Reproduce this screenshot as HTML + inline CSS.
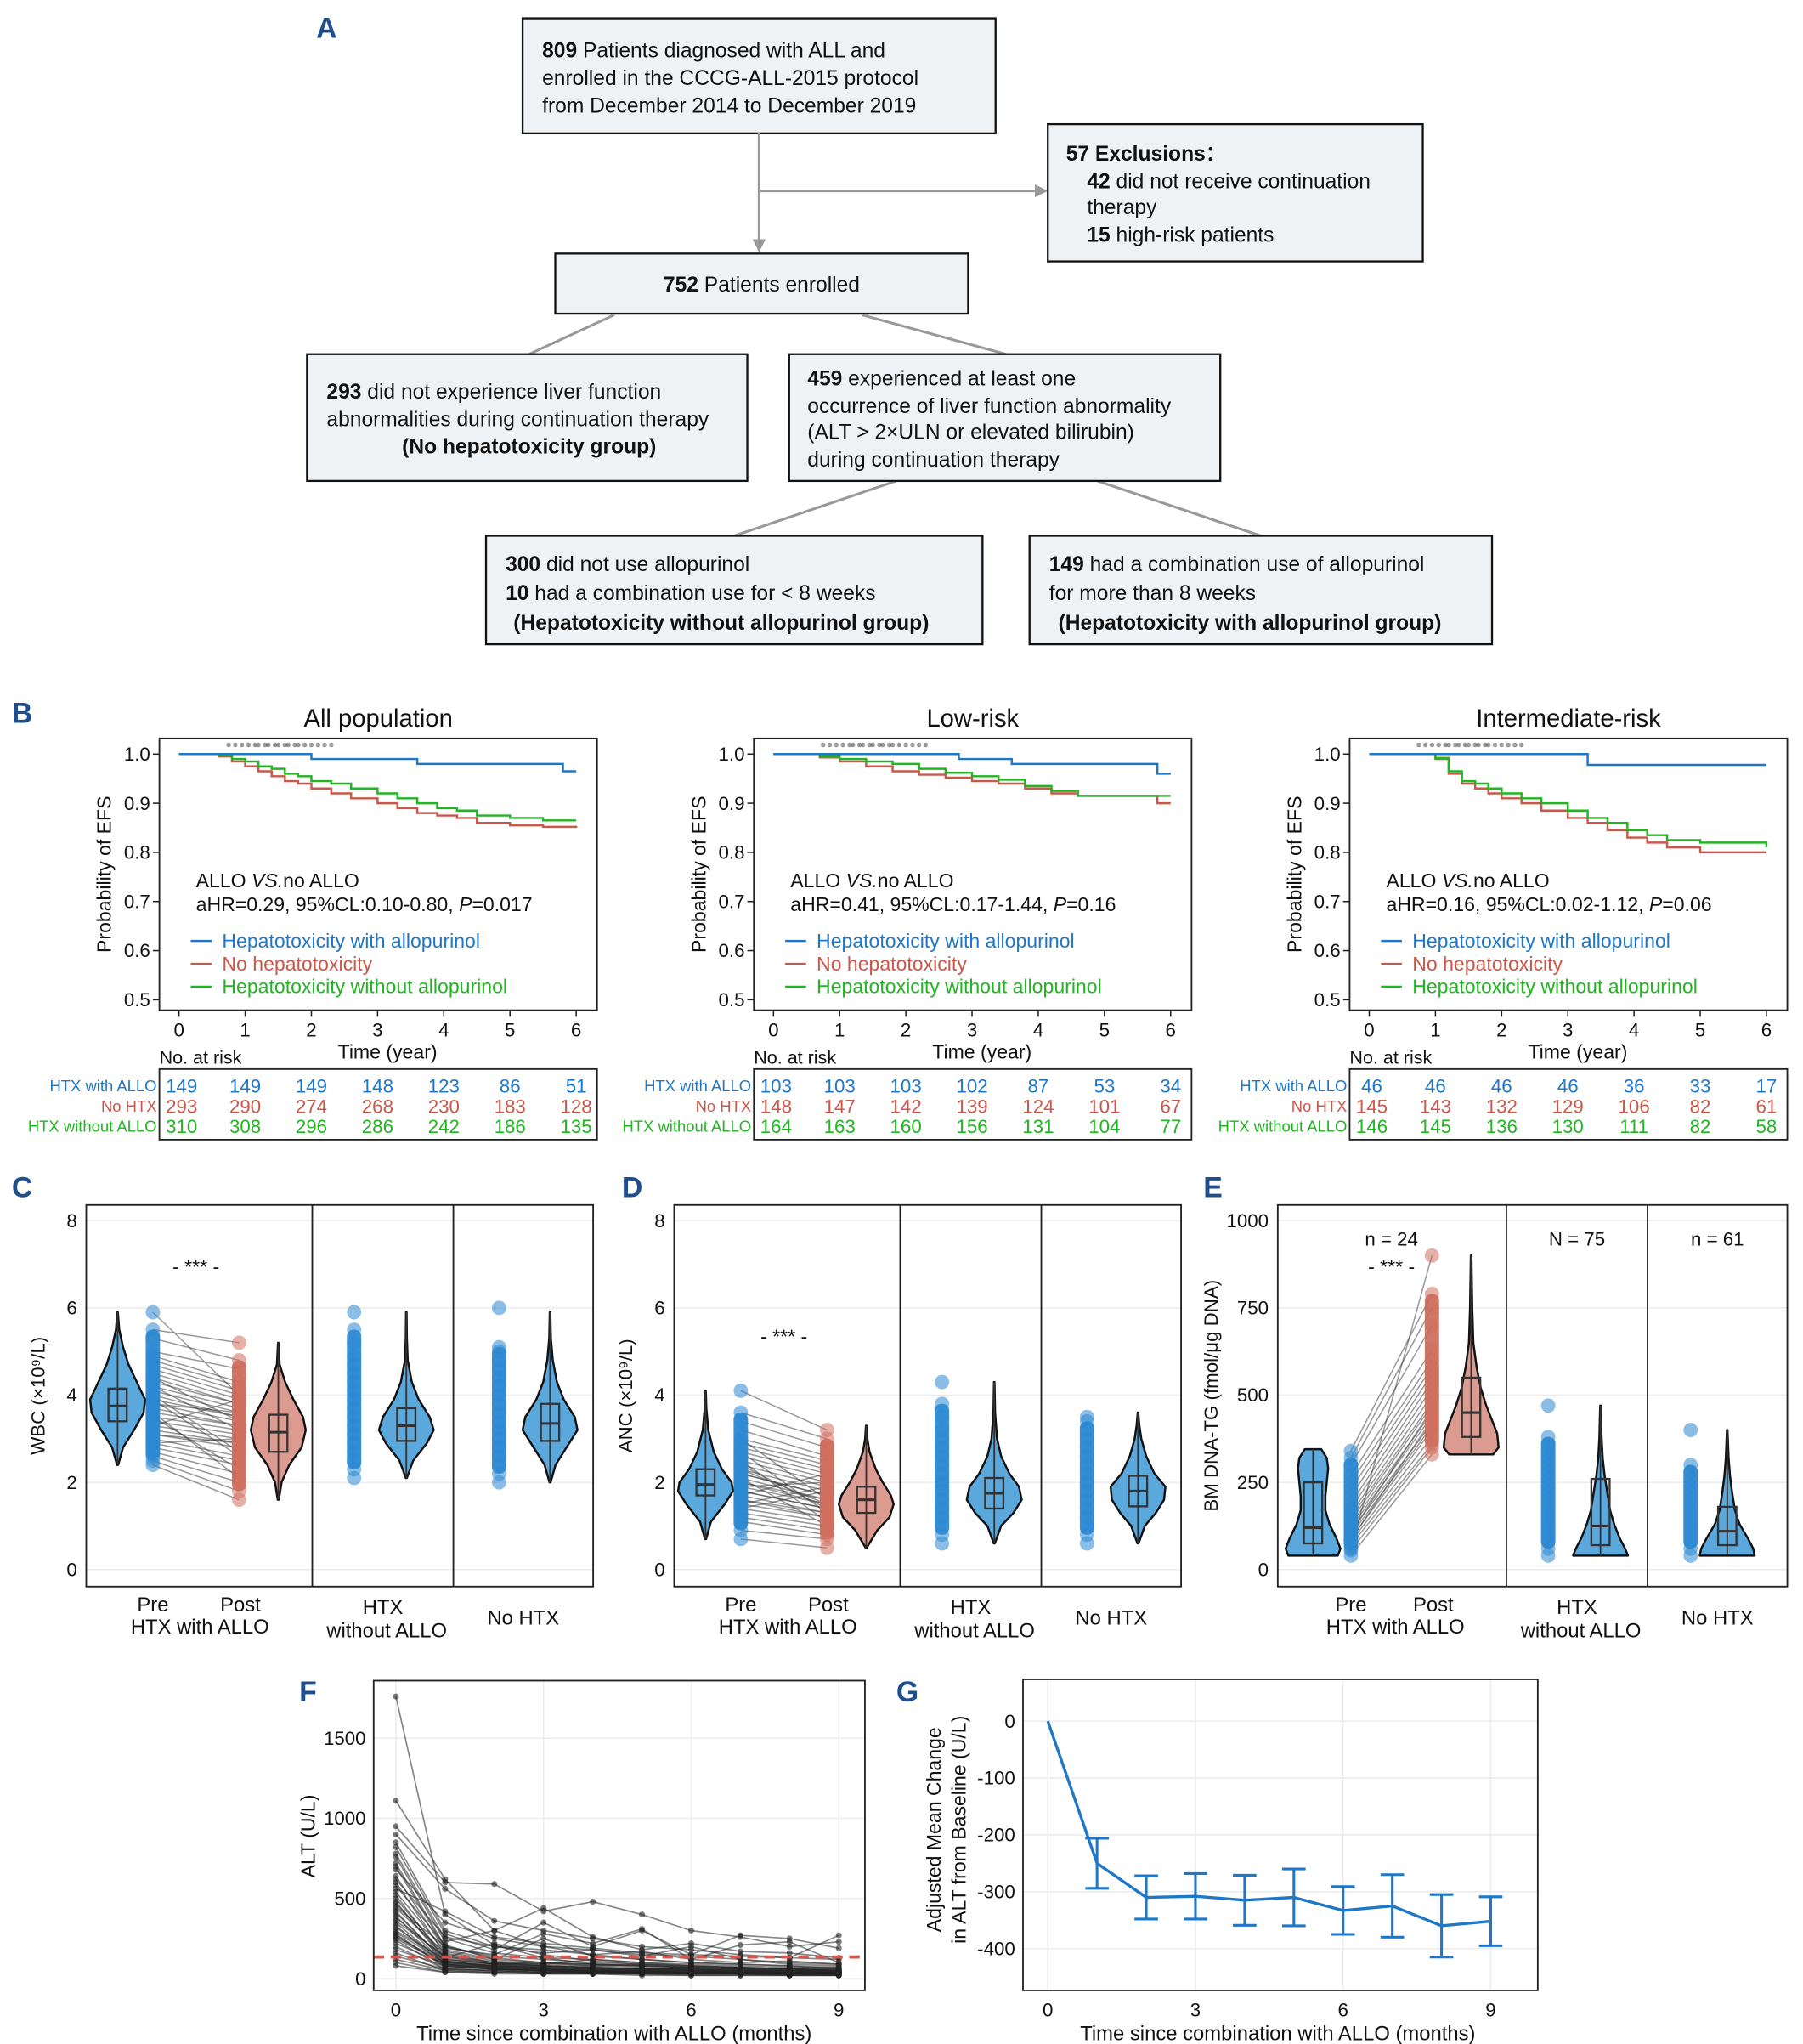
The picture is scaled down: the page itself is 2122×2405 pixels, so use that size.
<!DOCTYPE html>
<html><head><meta charset="utf-8"><style>
html,body{margin:0;padding:0;background:#fff}
svg{display:block}
text{font-family:"Liberation Sans",Arial,sans-serif;fill:#111}
.lab{font-weight:bold;fill:#1f4e8c;font-size:22px}
.box{fill:#eef2f5;stroke:#111;stroke-width:1.5}
.fl{stroke:#999;stroke-width:2;fill:none}
.ft{font-size:16px}
.tk{font-size:14.5px}
.ax{fill:none;stroke:#222;stroke-width:1.2}
.grid{stroke:#ececec;stroke-width:1}
</style></head><body>
<svg id="fig" xmlns="http://www.w3.org/2000/svg" width="2122" height="2405" viewBox="0 0 1380 1564">
<defs><marker id="arr" viewBox="0 0 10 10" refX="9" refY="5" markerWidth="5" markerHeight="5" orient="auto"><path d="M0,0L10,5L0,10z" fill="#999"/></marker></defs>
<g>
<text class="lab" x="242" y="29">A</text>
<rect class="box" x="400" y="14" width="362" height="88"/>
<text class="ft" x="415" y="44"><tspan font-weight="bold">809</tspan> Patients diagnosed with ALL and</text>
<text class="ft" x="415" y="65">enrolled in the CCCG-ALL-2015 protocol</text>
<text class="ft" x="415" y="86">from December 2014 to December 2019</text>
<path class="fl" d="M581,102V192" marker-end="url(#arr)"/>
<path class="fl" d="M581,146H801" marker-end="url(#arr)"/>
<rect class="box" x="802" y="95" width="287" height="105"/>
<text class="ft" x="816" y="123" font-weight="bold">57 Exclusions：</text>
<text class="ft" x="832" y="144"><tspan font-weight="bold">42</tspan> did not receive continuation</text>
<text class="ft" x="832" y="164">therapy</text>
<text class="ft" x="832" y="185"><tspan font-weight="bold">15</tspan> high-risk patients</text>
<rect class="box" x="425" y="194" width="316" height="46"/>
<text class="ft" x="583" y="223" text-anchor="middle"><tspan font-weight="bold">752</tspan> Patients enrolled</text>
<path class="fl" d="M470,241L405,271M660,241L770,271M686,368L562,410M840,368L965,410"/>
<rect class="box" x="235" y="271" width="337" height="97"/>
<text class="ft" x="250" y="305"><tspan font-weight="bold">293</tspan> did not experience liver function</text>
<text class="ft" x="250" y="326">abnormalities during continuation therapy</text>
<text class="ft" x="405" y="347" text-anchor="middle" font-weight="bold">(No hepatotoxicity group)</text>
<rect class="box" x="604" y="271" width="330" height="97"/>
<text class="ft" x="618" y="295"><tspan font-weight="bold">459</tspan> experienced at least one</text>
<text class="ft" x="618" y="316">occurrence of liver function abnormality</text>
<text class="ft" x="618" y="336">(ALT &gt; 2×ULN or elevated bilirubin)</text>
<text class="ft" x="618" y="357">during continuation therapy</text>
<rect class="box" x="372" y="410" width="380" height="83"/>
<text class="ft" x="387" y="437"><tspan font-weight="bold">300</tspan>  did not use allopurinol</text>
<text class="ft" x="387" y="459"><tspan font-weight="bold">10</tspan> had a combination use for &lt; 8 weeks</text>
<text class="ft" x="393" y="482" font-weight="bold">(Hepatotoxicity without allopurinol group)</text>
<rect class="box" x="788" y="410" width="354" height="83"/>
<text class="ft" x="803" y="437"><tspan font-weight="bold">149</tspan>  had a combination use of allopurinol</text>
<text class="ft" x="803" y="459">for more than 8 weeks</text>
<text class="ft" x="810" y="482" font-weight="bold">(Hepatotoxicity with allopurinol group)</text>
</g>
<text class="lab" x="9" y="553">B</text>
<text class="lab" x="9" y="916">C</text>
<text class="lab" x="476" y="916">D</text>
<text class="lab" x="921" y="916">E</text>
<text class="lab" x="229" y="1302">F</text>
<text class="lab" x="686" y="1302">G</text>
<g id="gB"></g><g id="gCDE"></g><g id="gF"></g><g id="gG"></g>
</svg>
<script>
// ---------- Panel B data ----------
const kmTitles = ["All population","Low-risk","Intermediate-risk"];
const kmHR = ["aHR=0.29, 95%CL:0.10-0.80, ","aHR=0.41, 95%CL:0.17-1.44, ","aHR=0.16, 95%CL:0.02-1.12, "];
const kmP = ["=0.017","=0.16","=0.06"];
const kmTimeTicks = [0,1,2,3,4,5,6];
const kmYTicks = [0.5,0.6,0.7,0.8,0.9,1.0];
const blueT = [[0,2.0,3.6,5.8,6],[0,2.8,3.6,5.8,6],[0,3.3,6]];
const blueS = [[1,0.99,0.98,0.965,0.965],[1,0.99,0.98,0.96,0.96],[1,0.978,0.978]];
const redT = [[0,0.6,0.8,1.0,1.2,1.4,1.6,1.8,2.0,2.3,2.6,3.0,3.3,3.6,3.9,4.2,4.5,5.0,5.5,6],
              [0,0.7,1.0,1.4,1.8,2.2,2.6,3.0,3.4,3.8,4.2,4.6,5.0,5.5,5.8,6],
              [0,1.0,1.2,1.4,1.6,1.8,2.0,2.3,2.6,3.0,3.3,3.6,3.9,4.2,4.5,5.0,6]];
const redS = [[1,0.995,0.985,0.975,0.965,0.955,0.945,0.94,0.93,0.92,0.91,0.9,0.89,0.88,0.875,0.87,0.86,0.855,0.852,0.85],
              [1,0.993,0.985,0.975,0.965,0.958,0.952,0.945,0.94,0.93,0.92,0.915,0.915,0.915,0.9,0.9],
              [1,0.99,0.96,0.94,0.93,0.92,0.91,0.9,0.885,0.87,0.86,0.845,0.83,0.82,0.81,0.8,0.8]];
const greenT = [[0,0.6,0.8,1.0,1.2,1.4,1.6,1.8,2.0,2.3,2.6,3.0,3.3,3.6,3.9,4.2,4.5,5.0,5.5,6],
                [0,0.7,1.0,1.4,1.8,2.2,2.6,3.0,3.4,3.8,4.2,4.6,5.0,5.5,5.8,6],
                [0,1.0,1.2,1.4,1.6,1.8,2.0,2.3,2.6,3.0,3.3,3.6,3.9,4.2,4.5,5.0,6]];
const greenS = [[1,0.997,0.99,0.985,0.975,0.97,0.96,0.955,0.945,0.94,0.93,0.92,0.91,0.9,0.89,0.885,0.875,0.87,0.865,0.865],
                [1,0.996,0.99,0.985,0.98,0.97,0.962,0.955,0.948,0.935,0.925,0.915,0.915,0.915,0.915,0.915],
                [1,0.992,0.965,0.945,0.94,0.93,0.92,0.91,0.9,0.885,0.87,0.86,0.845,0.835,0.825,0.82,0.81]];
const riskBlue = [[149,149,149,148,123,86,51],[103,103,103,102,87,53,34],[46,46,46,46,36,33,17]];
const riskRed = [[293,290,274,268,230,183,128],[148,147,142,139,124,101,67],[145,143,132,129,106,82,61]];
const riskGreen = [[310,308,296,286,242,186,135],[164,163,160,156,131,104,77],[146,145,136,130,111,82,58]];
const censorT = [0.75,0.85,0.95,1.05,1.15,1.2,1.3,1.35,1.45,1.5,1.6,1.65,1.75,1.8,1.9,2.0,2.1,2.2,2.3];

const NS="http://www.w3.org/2000/svg";
function mk(tag, attrs, parent, txt){const e=document.createElementNS(NS,tag);for(const k in attrs)e.setAttribute(k,attrs[k]);if(txt!==undefined)e.textContent=txt;parent.appendChild(e);return e;}
const C_BLUE="#1f77c8", C_RED="#c9584a", C_GREEN="#22b422";

const gB=document.getElementById('gB');
for(let p=0;p<3;p++){
  const off=[0,455,911][p];
  const X0=122+off, X1=457+off, Y0=565, Y1=773;
  const sx=t=>137+off+t*(304/6), sy=s=>577+(1-s)*376;
  const g=mk('g',{},gB);
  
  
  const tt=mk('text',{x:(X0+X1)/2,y:556,'text-anchor':'middle','font-size':19},g,kmTitles[p]);
  
  
  const fr=mk('rect',{x:X0,y:Y0,width:X1-X0,height:Y1-Y0,class:'ax'},g);
  
  
  kmYTicks.forEach(v=>{mk('line',{x1:X0-5,x2:X0,y1:sy(v),y2:sy(v),stroke:'#222'},g);
    const t=mk('text',{x:X0-7,y:sy(v)+5,'text-anchor':'end',class:'tk'},g,v.toFixed(1));
    
    });
  kmTimeTicks.forEach(v=>{mk('line',{x1:sx(v),x2:sx(v),y1:Y1,y2:Y1+5,stroke:'#222'},g);
    const t=mk('text',{x:sx(v),y:793,'text-anchor':'middle',class:'tk'},g,v);
    
    });
  const yl=mk('text',{transform:`translate(${X0-37},669) rotate(-90)`,'text-anchor':'middle','font-size':15},g,'Probability of EFS');
  
  
  const xl=mk('text',{x:sx(3.15),y:810,'text-anchor':'middle','font-size':15},g,'Time (year)');
  
  
  const nr=mk('text',{x:X0,y:814,'font-size':14},g,'No. at risk');
  
  
  censorT.forEach(t=>{const c=mk('circle',{cx:sx(t),cy:570,r:1.8,fill:'#555','fill-opacity':0.6},g);
    
    });
  [[redT[p],redS[p],C_RED,'no-htx'],[greenT[p],greenS[p],C_GREEN,'htx-without-allo'],[blueT[p],blueS[p],C_BLUE,'htx-with-allo']].forEach(([T,S,col,nm])=>{
    let d=`M${sx(T[0])},${sy(S[0])}`;
    for(let i=1;i<T.length;i++){d+=`H${sx(T[i])}V${sy(S[i])}`;}
    const pth=mk('path',{d,fill:'none',stroke:col,'stroke-width':1.6},g);
    
    
  });
  const ax=X0+28;
  mk('text',{x:ax,y:679,'font-size':15},g).innerHTML='ALLO <tspan font-style="italic">VS.</tspan>no ALLO';
  mk('text',{x:ax,y:697,'font-size':15},g).innerHTML=kmHR[p]+'<tspan font-style="italic">P</tspan>'+kmP[p];
  const leg=[['Hepatotoxicity with allopurinol',C_BLUE],['No hepatotoxicity',C_RED],['Hepatotoxicity without allopurinol',C_GREEN]];
  leg.forEach(([txt,col],i)=>{const y=720+i*17.5;
    mk('line',{x1:X0+24,x2:X0+40,y1:y,y2:y,stroke:col,'stroke-width':1.6},g);
    const t=mk('text',{x:X0+48,y:y+5,'font-size':15,style:'fill:'+col},g,txt);
    
    });
  const rb=mk('rect',{x:X0,y:818,width:X1-X0,height:54,class:'ax'},g);
  
  
  [['HTX with ALLO',riskBlue[p],C_BLUE],['No HTX',riskRed[p],C_RED],['HTX without ALLO',riskGreen[p],C_GREEN]].forEach(([lab,arr,col],r)=>{
    const y=834+r*15.5;
    const t=mk('text',{x:X0-2,y:y+1,'text-anchor':'end','font-size':12,style:'fill:'+col},g,lab);
    
    
    arr.forEach((v,i)=>{const n=mk('text',{x:sx(kmTimeTicks[i])+(i===0?2:0),y:y+2,'text-anchor':'middle','font-size':14.5,style:'fill:'+col},g,v);
      
      });
  });
}

// ---------- Panels C/D/E data ----------
const wbcPre  = [2.4,2.5,2.6,2.7,2.8,2.9,3.0,3.1,3.2,3.3,3.4,3.5,3.6,3.7,3.8,3.9,4.0,4.1,4.2,4.3,4.4,4.5,4.6,4.7,4.8,4.9,5.0,5.3,5.5,5.9,3.5,3.8,4.0,4.2,3.6,3.3,3.9,4.4,3.1,2.9];
const wbcPost = [1.6,1.8,2.0,2.2,2.4,2.5,2.6,2.8,2.9,3.0,3.1,3.2,3.3,3.3,3.4,3.5,3.5,3.6,3.7,3.8,3.8,3.9,4.0,4.1,4.2,4.3,4.6,4.8,5.2,4.0,2.3,3.6,2.7,3.2,2.1,3.9,2.6,3.4,2.9,3.0];
const wbcNoAllo = [2.1,2.3,2.5,2.7,2.9,3.1,3.3,3.5,3.7,3.9,4.1,4.3,4.5,4.7,4.9,5.2,5.5,5.9];
const wbcNoHtx = [2.0,2.2,2.4,2.6,2.8,3.0,3.2,3.4,3.6,3.8,4.0,4.2,4.4,4.6,4.8,5.0,5.1,6.0];
const ancPre  = [0.7,0.9,1.1,1.2,1.3,1.4,1.5,1.6,1.7,1.8,1.9,2.0,2.1,2.2,2.3,2.4,2.5,2.6,2.7,2.8,2.9,3.0,3.2,3.4,3.6,4.1,1.8,2.0,2.2,1.6,2.5,1.9,2.3,1.4,2.7,3.0,1.7,2.1,1.5,2.4];
const ancPost = [0.5,0.7,0.8,0.9,1.0,1.1,1.2,1.3,1.3,1.4,1.5,1.5,1.6,1.7,1.8,1.9,2.0,2.1,2.2,2.3,2.4,2.5,2.6,2.8,3.0,3.2,1.4,1.6,1.7,1.2,1.1,2.0,1.5,1.8,1.3,1.6,2.2,1.0,1.9,1.4];
const ancNoAllo = [0.6,0.8,1.0,1.2,1.4,1.6,1.8,2.0,2.2,2.4,2.6,2.8,3.0,3.2,3.5,3.8,4.3];
const ancNoHtx = [0.6,0.8,1.0,1.2,1.4,1.6,1.8,2.0,2.2,2.4,2.6,2.8,3.0,3.2,3.4,3.5];
const tgPre  = [40,55,70,80,90,100,110,120,130,140,150,160,175,190,210,230,250,270,300,320,340,60,85,105];
const tgPost = [330,350,360,380,400,410,420,440,450,470,480,500,520,540,560,580,600,630,700,750,790,900,430,460];
const tgNoAllo = [40,60,80,100,120,140,160,180,200,220,240,260,280,300,320,340,360,380,470];
const tgNoHtx = [40,60,80,100,120,140,160,180,200,220,240,260,280,300,400];
const vWbcPre = {v:[2.4,2.8,3.2,3.6,3.9,4.3,4.7,5.1,5.5,5.9], d:[0.02,0.2,0.6,0.95,1,0.7,0.4,0.2,0.06,0.01], q:[3.4,3.75,4.15,2.4,5.9]};
const vWbcPost = {v:[1.6,2.0,2.4,2.8,3.2,3.5,3.9,4.3,4.7,5.2], d:[0.02,0.12,0.4,0.85,1,0.9,0.55,0.25,0.05,0.01], q:[2.7,3.15,3.55,1.6,5.2]};
const vWbcNoAllo = {v:[2.1,2.5,2.9,3.2,3.5,3.9,4.3,4.8,5.3,5.9], d:[0.02,0.25,0.75,1,0.85,0.45,0.2,0.05,0.02,0.01], q:[2.95,3.3,3.7,2.1,5.9]};
const vWbcNoHtx = {v:[2.0,2.4,2.8,3.2,3.5,3.9,4.3,4.8,5.3,5.9], d:[0.02,0.2,0.6,1,0.9,0.5,0.25,0.1,0.03,0.01], q:[2.95,3.35,3.8,2.0,5.9]};
const vAncPre = {v:[0.7,1.1,1.5,1.8,2.0,2.3,2.7,3.2,3.7,4.1], d:[0.02,0.2,0.7,1,0.95,0.6,0.3,0.1,0.03,0.01], q:[1.7,1.95,2.3,0.7,4.1]};
const vAncPost = {v:[0.5,0.9,1.2,1.5,1.7,2.0,2.3,2.7,3.0,3.3], d:[0.02,0.4,0.85,1,0.9,0.6,0.35,0.12,0.04,0.01], q:[1.3,1.6,1.9,0.5,3.3]};
const vAncNoAllo = {v:[0.6,1.0,1.3,1.6,1.9,2.2,2.6,3.0,3.6,4.3], d:[0.02,0.25,0.7,1,0.9,0.55,0.25,0.1,0.03,0.01], q:[1.4,1.75,2.1,0.6,4.3]};
const vAncNoHtx = {v:[0.6,1.0,1.3,1.6,1.9,2.2,2.6,3.0,3.3,3.6], d:[0.02,0.25,0.65,0.95,1,0.6,0.3,0.12,0.05,0.01], q:[1.45,1.8,2.15,0.6,3.6]};
const vTgPre = {v:[40,60,90,130,170,210,250,290,320,345], d:[0.9,1,0.85,0.6,0.45,0.45,0.5,0.55,0.5,0.3], q:[75,120,250,40,345]};
const vTgPost = {v:[330,350,390,430,470,520,580,650,750,900], d:[0.8,1,0.95,0.75,0.55,0.35,0.2,0.08,0.04,0.01], q:[380,450,550,330,900]};
const vTgNoAllo = {v:[40,60,90,130,170,220,270,320,380,470], d:[1,0.9,0.7,0.5,0.35,0.25,0.15,0.08,0.04,0.01], q:[70,125,260,40,470]};
const vTgNoHtx = {v:[40,60,90,130,170,220,270,320,360,400], d:[1,0.95,0.75,0.45,0.28,0.18,0.1,0.05,0.03,0.01], q:[70,110,180,40,400]};

const gC=document.getElementById('gCDE');
const panels=[
 {off:0, ymax:8, ticks:[0,2,4,6,8], ylab:'WBC (×10⁹/L)', pre:wbcPre, post:wbcPost, noA:wbcNoAllo, noH:wbcNoHtx, vs:[vWbcPre,vWbcPost,vWbcNoAllo,vWbcNoHtx], sig:7.0, name:'wbc', X0:66,X1:454, dv:[239,347], ns:null, yt:32},
 {off:450, ymax:8, ticks:[0,2,4,6,8], ylab:'ANC (×10⁹/L)', pre:ancPre, post:ancPost, noA:ancNoAllo, noH:ancNoHtx, vs:[vAncPre,vAncPost,vAncNoAllo,vAncNoHtx], sig:5.4, name:'anc', X0:516,X1:904, dv:[689,797], ns:null, yt:32},
 {off:912, ymax:1000, ticks:[0,250,500,750,1000], ylab:'BM DNA-TG (fmol/μg DNA)', pre:tgPre, post:tgPost, noA:tgNoAllo, noH:tgNoHtx, vs:[vTgPre,vTgPost,vTgNoAllo,vTgNoHtx], sig:875, name:'dna-tg', X0:978,X1:1368, dv:[1153,1261], ns:['n = 24','N = 75','n = 61'], yt:46}
];
panels.forEach(P=>{
  const g=mk('g',{},gC);
  
  
  const Y0=922,Y1=1214;
  const sy=v=>1201-v*(267/P.ymax);
  const o=P.off;
  const xs = P.name==='dna-tg'
    ? {vPre:1005,pPre:1034,pPost:1096,vPost:1126,pNA:1185,vNA:1225,pNH:1294,vNH:1322}
    : {vPre:90+o,pPre:117+o,pPost:183+o,vPost:213+o,pNA:271+o,vNA:311+o,pNH:382+o,vNH:421+o};
  P.ticks.forEach(v=>{mk('line',{x1:P.X0,x2:P.X1,y1:sy(v),y2:sy(v),class:'grid'},g);
    const t=mk('text',{x:P.X0-7,y:sy(v)+5,'text-anchor':'end',class:'tk'},g,v);
    
    });
  const yl=mk('text',{transform:`translate(${P.X0-P.yt},${(Y0+Y1)/2}) rotate(-90)`,'text-anchor':'middle','font-size':14.5},g,P.ylab);
  
  
  P.pre.forEach((v,i)=>{const l=mk('line',{x1:xs.pPre,x2:xs.pPost,y1:sy(v),y2:sy(P.post[i]),stroke:'#333','stroke-opacity':0.5,'stroke-width':1},g);
    
    });
  const dots=(arr,x,col,nm)=>arr.forEach(v=>{const c=mk('circle',{cx:x,cy:sy(v),r:5.5,fill:col,'fill-opacity':0.55},g);
    
    });
  const col=(arr,x,c)=>{const s=[...arr].sort((a,b)=>a-b);const r=mk('rect',{x:x-5.5,y:sy(s[s.length-2]),width:11,height:sy(s[1])-sy(s[s.length-2]),fill:c,'fill-opacity':0.85,rx:5},g);
    
    };
  col(P.pre,xs.pPre,'#1a7fcf');col(P.post,xs.pPost,'#c9604f');col(P.noA,xs.pNA,'#1a7fcf');col(P.noH,xs.pNH,'#1a7fcf');
  dots(P.pre,xs.pPre,'#2b88d4','pre-point');dots(P.post,xs.pPost,'#d0705f','post-point');
  dots(P.noA,xs.pNA,'#2b88d4','htx-without-allo-point');dots(P.noH,xs.pNH,'#2b88d4','no-htx-point');
  const violin=(V,x,fill,nm)=>{
    const W=21;let L=[],R=[];
    V.v.forEach((v,i)=>{L.push(`${x-V.d[i]*W},${sy(v)}`);R.unshift(`${x+V.d[i]*W},${sy(v)}`);});
    const pth=mk('path',{d:'M'+L.join('L')+'L'+R.join('L')+'Z',fill,stroke:'#111','stroke-width':1.6,'stroke-linejoin':'round'},g);
    
    
    mk('line',{x1:x,x2:x,y1:sy(V.q[3]),y2:sy(V.q[4]),stroke:'#333','stroke-width':1.2},g);
    const b=mk('rect',{x:x-7,y:sy(V.q[2]),width:14,height:sy(V.q[0])-sy(V.q[2]),fill:'none',stroke:'#333','stroke-width':1.5},g);
    
    
    mk('line',{x1:x-7,x2:x+7,y1:sy(V.q[1]),y2:sy(V.q[1]),stroke:'#333','stroke-width':2},g);
  };
  violin(P.vs[0],xs.vPre,'#5ba8dd','violin-pre');
  violin(P.vs[1],xs.vPost,'#dc9b90','violin-post');
  violin(P.vs[2],xs.vNA,'#5ba8dd','violin-htx-without-allo');
  violin(P.vs[3],xs.vNH,'#5ba8dd','violin-no-htx');
  const fr=mk('rect',{x:P.X0,y:Y0,width:P.X1-P.X0,height:Y1-Y0,class:'ax'},g);
  
  
  P.dv.forEach(x=>mk('line',{x1:x,x2:x,y1:Y0,y2:Y1,stroke:'#222','stroke-width':1.2},g));
  const sg=mk('text',{x:(xs.pPre+xs.pPost)/2,y:sy(P.sig)+7,'text-anchor':'middle','font-size':15},g,'- *** -');
  
  
  if(P.ns){[[ (xs.pPre+xs.pPost)/2,P.ns[0]],[(P.dv[0]+P.dv[1])/2,P.ns[1]],[(P.dv[1]+P.X1)/2,P.ns[2]]].forEach(([x,t])=>{
    const e=mk('text',{x,y:953,'text-anchor':'middle','font-size':14.5},g,t);
    
    });}
  const lab=(x,y,t)=>{const e=mk('text',{x,y,'text-anchor':'middle','font-size':15.5},g,t);
    
    };
  const mid=(xs.pPre+xs.pPost)/2;
  lab(xs.pPre,1233,'Pre');lab(xs.pPost+1,1233,'Post');lab(mid+3,1250,'HTX  with ALLO');
  lab((P.dv[0]+P.dv[1])/2,1235,'HTX');lab((P.dv[0]+P.dv[1])/2+3,1253,'without ALLO');
  lab((P.dv[1]+P.X1)/2,1243,'No HTX');
});

// ---------- Panel F data ----------
const fMonths = [0,1,2,3,4,5,6,7,8,9];
const altPatients = [
 [1760,400,210,130,90,80,70,60,60,50],
 [1110,620,300,200,150,120,100,90,80,70],
 [950,600,590,420,480,400,300,260,200,230],
 [900,560,360,300,250,200,180,150,130,270],
 [850,300,200,180,150,170,120,100,110,90],
 [780,250,160,130,120,100,90,80,70,70],
 [720,200,140,120,100,90,80,70,60,60],
 [680,350,250,200,180,150,140,120,100,90],
 [640,180,120,100,90,80,70,60,60,50],
 [600,150,100,90,80,70,60,60,50,50],
 [560,420,260,220,190,160,150,140,130,120],
 [520,120,90,80,70,60,60,50,50,40],
 [480,110,80,70,60,60,50,50,40,40],
 [450,200,130,100,90,80,70,70,60,60],
 [420,100,80,70,60,50,50,40,40,40],
 [390,90,70,60,50,50,40,40,40,30],
 [360,140,100,80,70,60,60,50,50,50],
 [330,80,60,50,50,40,40,40,30,30],
 [300,120,90,70,60,60,50,50,40,40],
 [280,70,60,50,40,40,40,30,30,30],
 [260,100,80,60,50,50,40,40,40,40],
 [240,60,50,40,40,40,30,30,30,30],
 [220,90,70,60,50,40,40,40,30,30],
 [200,60,50,40,40,30,30,30,30,30],
 [180,80,60,50,40,40,40,30,30,30],
 [160,50,40,40,30,30,30,30,30,30],
 [140,60,50,40,40,30,30,30,30,20],
 [120,50,40,30,30,30,30,30,20,20],
 [100,40,40,30,30,30,20,20,20,20],
 [80,40,30,30,30,20,20,20,20,20],
 [820,280,180,350,200,300,150,270,250,190],
 [760,230,300,440,260,180,220,170,160,130],
 [700,190,150,280,220,310,120,210,230,100],
 [620,260,200,160,180,140,200,120,90,80],
 [580,210,120,250,140,120,100,90,80,60],
 [540,170,110,90,120,100,80,70,60,50],
 [500,140,90,100,80,90,70,60,50,50],
 [470,130,220,150,110,90,80,70,60,50],
 [440,160,100,80,70,60,60,50,50,40],
 [410,110,70,60,50,50,40,40,30,30],
 [380,130,90,80,70,60,50,50,40,40],
 [350,90,60,50,40,40,40,30,30,30],
 [320,110,80,70,60,50,50,40,40,40],
 [290,100,70,60,50,40,40,40,30,30],
 [270,80,60,50,50,40,30,30,30,30],
 [250,90,60,50,40,40,40,30,30,30]
];
const fYTicks = [0,500,1000,1500];
const fXTicks = [0,3,6,9];
const altULN = 135;
{
  const g=mk('g',{},document.getElementById('gF'));
  
  
  const X0=286,X1=662,Y0=1286,Y1=1523;
  const sx=m=>303+m*(339/9), sy=v=>1514-v*(184/1500);
  fYTicks.forEach(v=>{mk('line',{x1:X0,x2:X1,y1:sy(v),y2:sy(v),class:'grid'},g);
    const t=mk('text',{x:X0-6,y:sy(v)+5,'text-anchor':'end',class:'tk'},g,v);
    
    });
  fXTicks.forEach(v=>{mk('line',{x1:sx(v),x2:sx(v),y1:Y0,y2:Y1,class:'grid'},g);
    const t=mk('text',{x:sx(v),y:1543,'text-anchor':'middle',class:'tk'},g,v);
    
    });
  altPatients.forEach(arr=>{
    const pth=mk('path',{d:'M'+arr.map((v,i)=>`${sx(fMonths[i])},${sy(v)}`).join('L'),fill:'none',stroke:'#222','stroke-opacity':0.55,'stroke-width':1.1},g);
    
    
    arr.forEach((v,i)=>{const c=mk('circle',{cx:sx(fMonths[i]),cy:sy(v),r:2.3,fill:'#222','fill-opacity':0.6},g);
      
      });
  });
  const r=mk('line',{x1:X0,x2:X1,y1:sy(altULN),y2:sy(altULN),stroke:'#d9554a','stroke-width':2.5,'stroke-dasharray':'8,5'},g);
  
  
  const fr=mk('rect',{x:X0,y:Y0,width:X1-X0,height:Y1-Y0,class:'ax'},g);
  
  
  const yl=mk('text',{transform:`translate(241,1405) rotate(-90)`,'text-anchor':'middle','font-size':15},g,'ALT (U/L)');
  
  
  const xl=mk('text',{x:470,y:1561,'text-anchor':'middle','font-size':15.5},g,'Time since combination with ALLO (months)');
  
  
}

// ---------- Panel G data ----------
const gMonths = [0,1,2,3,4,5,6,7,8,9];
const gMean = [0,-250,-310,-308,-315,-310,-333,-325,-360,-352];
const gErr = [0,44,38,40,44,50,42,55,55,43];
const gYTicks = [0,-100,-200,-300,-400];
const gXTicks = [0,3,6,9];
{
  const g=mk('g',{},document.getElementById('gG'));
  
  
  const X0=783,X1=1177,Y0=1285,Y1=1523;
  const sx=m=>802+m*(339/9), sy=v=>1317-v*0.435;
  gYTicks.forEach(v=>{mk('line',{x1:X0,x2:X1,y1:sy(v),y2:sy(v),class:'grid'},g);
    const t=mk('text',{x:X0-6,y:sy(v)+5,'text-anchor':'end',class:'tk'},g,v);
    
    });
  gXTicks.forEach(v=>{mk('line',{x1:sx(v),x2:sx(v),y1:Y0,y2:Y1,class:'grid'},g);
    const t=mk('text',{x:sx(v),y:1543,'text-anchor':'middle',class:'tk'},g,v);
    
    });
  const ln=mk('path',{d:'M'+gMean.map((v,i)=>`${sx(gMonths[i])},${sy(v)}`).join('L'),fill:'none',stroke:C_BLUE,'stroke-width':2.2},g);
  
  
  gMean.forEach((v,i)=>{if(!gErr[i])return;const x=sx(gMonths[i]);
    const e=mk('path',{d:`M${x-9},${sy(v+gErr[i])}H${x+9}M${x},${sy(v+gErr[i])}V${sy(v-gErr[i])}M${x-9},${sy(v-gErr[i])}H${x+9}`,fill:'none',stroke:C_BLUE,'stroke-width':2},g);
    
    });
  const fr=mk('rect',{x:X0,y:Y0,width:X1-X0,height:Y1-Y0,class:'ax'},g);
  
  
  const y1=mk('text',{transform:`translate(720,1400) rotate(-90)`,'text-anchor':'middle','font-size':15},g,'Adjusted Mean Change');
  
  
  const y2=mk('text',{transform:`translate(739,1400) rotate(-90)`,'text-anchor':'middle','font-size':15},g,'in ALT from Baseline (U/L)');
  
  
  const xl=mk('text',{x:978,y:1561,'text-anchor':'middle','font-size':15.5},g,'Time since combination with ALLO (months)');
  
  
}
</script>
</body></html>
